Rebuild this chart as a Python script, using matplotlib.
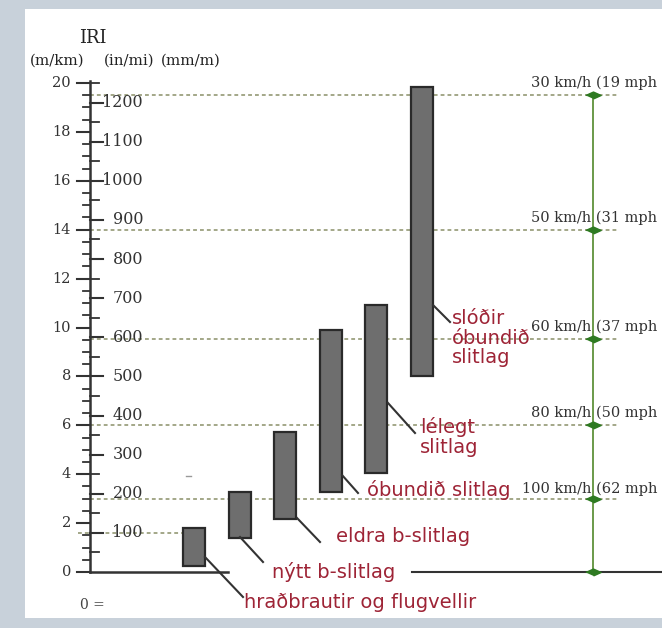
## IRI (International Roughness Index) ranges for road surface types,
## with the speed at which each roughness level is comfortable.

import numpy as np
import matplotlib.pyplot as plt
from matplotlib.patches import Rectangle

## data
surfaces = ['hraðbrautir og flugvellir', 'nýtt b-slitlag', 'eldra b-slitlag',
            'óbundið slitlag', 'lélegt\nslitlag', 'slóðir\nóbundið\nslitlag']
iri_low = [0.26, 1.40, 2.17, 3.28, 4.04, 8.02]
iri_high = [1.79, 3.26, 5.71, 9.90, 10.92, 19.82]

# the picture cuts these off at its right edge
speed_labels = ['30 km/h (19 mph', '50 km/h (31 mph', '60 km/h (37 mph',
                '80 km/h (50 mph', '100 km/h (62 mph']
speed_iri = [19.5, 14.0, 9.55, 6.0, 3.0]

mkm_major = np.arange(0, 21, 2)          # m/km labels
mkm_minor = np.arange(0, 20.01, 0.5)
inmi_major = np.arange(100, 1201, 100)   # in/mi labels
inmi_minor = np.arange(50, 1251, 50)
inmi_to_mkm = 0.016                      # scale as drawn in the picture

## layout (x in pixels, y in IRI m/km)
px_per_unit = 24.45
y0_px = 572
def py(p):
  return (y0_px - p) / px_per_unit

bar_x = 194 + 45.6 * np.arange(len(surfaces))
bar_w = 22
axis_x = 90
speed_x = 593
red = '#9e2436'
serif = 'DejaVu Serif'
sans = 'DejaVu Sans'

fig = plt.figure(figsize=(6.62, 6.28), dpi=100, facecolor='#c8d1da')
fig.patches.append(Rectangle((25/662, 10/628), 637/662, 609/628,
                             transform=fig.transFigure, facecolor='white',
                             edgecolor='none', zorder=-10))
ax = fig.add_axes([0, 0, 1, 1])
ax.set_facecolor('none')
ax.set_xlim(0, 662)
ax.set_ylim(py(628), py(0))
ax.axis('off')

## dotted reference lines
for v in speed_iri:
  ax.plot([axis_x, 617], [v, v], color='#8a9068', lw=1.1, ls=(0, (2.5, 2)))
ax.plot([78, 185], [1.58, 1.58], color='#8a9068', lw=1.1, ls=(0, (2.5, 2)))

## IRI axis
ax.plot([axis_x, axis_x], [0, 20.1], color='#333333', lw=1.8)
ax.plot([axis_x, 228], [0, 0], color='#333333', lw=1.8)
ax.plot([412, 662], [0, 0], color='#333333', lw=1.5)
for v in mkm_minor:
  ax.plot([axis_x - 7, axis_x], [v, v], color='#333333', lw=1.3)
for v in mkm_major:
  ax.plot([axis_x - 13, axis_x], [v, v], color='#333333', lw=1.5)
  ax.text(axis_x - 19, v, '%d' % v, ha='right', va='center',
          fontsize=10.5, family=serif, color='#333333')
for v in inmi_minor:
  ax.plot([axis_x, axis_x + 9], [v*inmi_to_mkm]*2, color='#333333', lw=1.3)
for v in inmi_major:
  ax.plot([axis_x, axis_x + 13], [v*inmi_to_mkm]*2, color='#333333', lw=1.5)
  ax.text(143, v*inmi_to_mkm, '%d' % v, ha='right', va='center',
          fontsize=11.5, family=serif, color='#333333')

ax.text(93, py(38), 'IRI', ha='center', va='center', fontsize=13,
        family=serif, color='#222222')
for lab, xc in zip(['(m/km)', '(in/mi)', '(mm/m)'], [57, 129, 191]):
  ax.text(xc, py(61), lab, ha='center', va='center', fontsize=10.8,
          family=serif, color='#222222')
ax.text(92, py(605), '0 =', ha='center', va='center', fontsize=10,
        family=serif, color='#444444')
ax.plot([186, 191], [py(476)]*2, color='#999999', lw=1)

## surface ranges
ax.bar(bar_x, np.array(iri_high) - np.array(iri_low), bottom=iri_low,
       width=bar_w, color='#6e6e6e', edgecolor='#2a2a2a', linewidth=1.6,
       zorder=3)

## leader lines and labels
lead_from = [(205, 557), (240, 537), (297, 518), (342, 475), (388, 403), (433, 305)]
lead_to = [(243, 597), (263, 562), (320, 542), (358, 493), (415, 433), (450, 322)]
label_pos = [(244, 603), (272, 572), (336, 536), (367, 490), (420, 437), (452, 338)]
for i in range(len(surfaces)):
  (x1, y1), (x2, y2) = lead_from[i], lead_to[i]
  ax.plot([x1, x2], [py(y1), py(y2)], color='#333333', lw=1.5, zorder=4)
  ax.text(label_pos[i][0], py(label_pos[i][1]), surfaces[i], ha='left',
          va='center', fontsize=14, family=sans, color=red,
          linespacing=1.05, zorder=5)

## speed scale
ax.plot([speed_x, speed_x], [0, speed_iri[0]], color='#6a9a4a', lw=1.4)
flat = [(-1, 0), (0, 0.45), (1, 0), (0, -0.45)]
ax.plot([speed_x]*(len(speed_iri) + 1), speed_iri + [0], ls='none',
        marker=flat, markersize=11, color='#2e7a22', zorder=5)
speed_px = [(531, 83), (531, 218), (531, 327), (531, 413), (522, 489)]
for lab, (xt, yt) in zip(speed_labels, speed_px):
  ax.text(xt, py(yt), lab, ha='left', va='center', fontsize=10.5,
          family=serif, color='#333333')

plt.savefig('out.png', dpi=100, facecolor=fig.get_facecolor())
